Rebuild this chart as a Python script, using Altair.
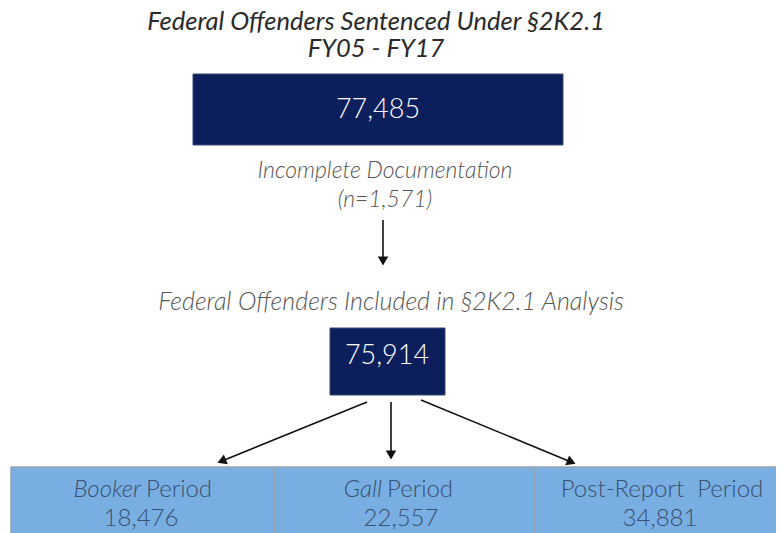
import math
import altair as alt
import pandas as pd

# ---------------- data ----------------
title_lines = ["Federal Offenders Sentenced Under §2K2.1", "FY05 - FY17"]
total_sentenced = 77485
excluded_label = "Incomplete Documentation"
excluded_n = 1571
included_label = "Federal Offenders Included in §2K2.1 Analysis"
included_n = 75914
period_names = ["Booker", "Gall", "Post-Report"]
period_italic = [True, True, False]
period_counts = [18476, 22557, 34881]

# ---------------- layout (pixel positions in page coordinates) ----------------
X0, X1 = 8, 776
Y0, Y1 = 8, 533
FONT = "Lato"
NAVY = "#0c1f5c"
LIGHT = "#79aee3"

title_y = [22, 49]
title_x = 376
box_top = dict(x=193, x2=563, y=74, y2=145, cx=378, cy=110)
excl_x, excl_y = [385, 385], [171, 200]
incl_x, incl_y = 391, 302
box_mid = dict(x=330, x2=445, y=328, y2=395, cx=387, cy=356)
cells_x = [11, 275, 534]
cells_x2 = [275, 534, 790]
cells_y, cells_y2 = 467, 545
name_y, count_y = 490, 519
name_split = [143, 384, 662]
count_x = [141, 401, 660]
arrows = [  # (x_from, y_from, x_tip, y_tip)
    (383, 220, 383, 266),
    (367, 402, 217, 463),
    (391, 402, 391, 460),
    (421, 400, 576, 464),
]

xs = alt.Scale(domain=[X0, X1], nice=False, zero=False)
ys = alt.Scale(domain=[Y0, Y1], nice=False, zero=False, reverse=True)
X = lambda f: alt.X(f, type="quantitative", scale=xs, axis=None)
Y = lambda f: alt.Y(f, type="quantitative", scale=ys, axis=None)

# title
title_df = pd.DataFrame({"t": title_lines, "x": [title_x] * 2, "y": title_y})
title = alt.Chart(title_df).mark_text(
    font=FONT, fontSize=25.5, fontStyle="italic", fontWeight=400, color="#2a2a2a",
    baseline="middle"
).encode(x=X("x"), y=Y("y"), text="t:N")

# navy boxes
boxes_df = pd.DataFrame({
    "x": [box_top["x"], box_mid["x"]], "x2": [box_top["x2"], box_mid["x2"]],
    "y": [box_top["y"], box_mid["y"]], "y2": [box_top["y2"], box_mid["y2"]],
    "cx": [box_top["cx"], box_mid["cx"]], "cy": [box_top["cy"], box_mid["cy"]],
    "n": [total_sentenced, included_n],
})
boxes = alt.Chart(boxes_df).mark_rect(color=NAVY, stroke="#3a4a78", strokeWidth=1).encode(
    x=X("x"), x2="x2", y=Y("y"), y2="y2")
box_text = alt.Chart(boxes_df).mark_text(
    font=FONT, fontSize=27, fontWeight=300, color="white", baseline="middle"
).encode(x=X("cx"), y=Y("cy"), text=alt.Text("n:Q", format=","))

# grey italic labels
grey_df = pd.DataFrame({
    "t": [excluded_label, f"(n={excluded_n:,})", included_label],
    "x": excl_x + [incl_x], "y": excl_y + [incl_y],
    "s": [23, 23, 25],
})
grey = alt.Chart(grey_df).mark_text(
    font=FONT, fontStyle="italic", fontWeight=300, color="#555555", baseline="middle"
).encode(x=X("x"), y=Y("y"), text="t:N", size=alt.Size("s:Q", scale=None, legend=None))

# arrows
ar = []
for (xa, ya, xb, yb) in arrows:
    dx, dy = xb - xa, yb - ya
    L = math.hypot(dx, dy)
    ux, uy = dx / L, dy / L
    ang = math.degrees(math.atan2(dx, -dy)) % 360
    ar.append(dict(x=xa, y=ya, x2=xb - ux * 6, y2=yb - uy * 6,
                   hx=xb - ux * 5, hy=yb - uy * 5, ang=ang))
ar_df = pd.DataFrame(ar)
shafts = alt.Chart(ar_df).mark_rule(color="#111111", strokeWidth=1.6).encode(
    x=X("x"), y=Y("y"), x2="x2", y2="y2")
heads = alt.Chart(ar_df).mark_point(
    shape="triangle-up", filled=True, color="#111111", size=110, opacity=1
).encode(x=X("hx"), y=Y("hy"), angle=alt.Angle("ang:Q", scale=None))

# bottom cells
cells_df = pd.DataFrame({
    "x": cells_x, "x2": cells_x2, "y": [cells_y] * 3, "y2": [cells_y2] * 3,
})
cells = alt.Chart(cells_df).mark_rect(
    color=LIGHT, stroke="#9aa3ad", strokeWidth=1.5, clip=True
).encode(x=X("x"), x2="x2", y=Y("y"), y2="y2")

names_df = pd.DataFrame({
    "name": period_names, "italic": period_italic, "sx": name_split,
    "y": [name_y] * 3, "cx": count_x, "cy": [count_y] * 3, "n": period_counts,
})
TXT = "#3b4f6e"
italic_words = alt.Chart(names_df).transform_filter("datum.italic").mark_text(
    font=FONT, fontSize=24, fontWeight=300, fontStyle="italic", color=TXT, align="right",
    baseline="middle", dx=-2
).encode(x=X("sx"), y=Y("y"), text="name:N")
period_words = alt.Chart(names_df).transform_filter("datum.italic").mark_text(
    font=FONT, fontSize=24, fontWeight=300, color=TXT, align="left", baseline="middle", dx=3
).encode(x=X("sx"), y=Y("y"), text=alt.value("Period"))
plain_names = alt.Chart(names_df).transform_filter("!datum.italic").transform_calculate(
    lab="datum.name + '\u00a0\u00a0Period'"
).mark_text(
    font=FONT, fontSize=24, fontWeight=300, color=TXT, align="center", baseline="middle"
).encode(x=X("sx"), y=Y("y"), text="lab:N")
counts = alt.Chart(names_df).mark_text(
    font=FONT, fontSize=24, fontWeight=300, color=TXT, baseline="middle"
).encode(x=X("cx"), y=Y("cy"), text=alt.Text("n:Q", format=","))

chart = alt.layer(
    title, boxes, box_text, grey, shafts, heads, cells,
    italic_words, period_words, plain_names, counts
).properties(
    width=X1 - X0, height=Y1 - Y0,
    autosize=alt.AutoSizeParams(type="none"), padding=0
).configure_view(stroke=None)

chart.save("out.html", embed_options={"renderer": "svg", "actions": False})
